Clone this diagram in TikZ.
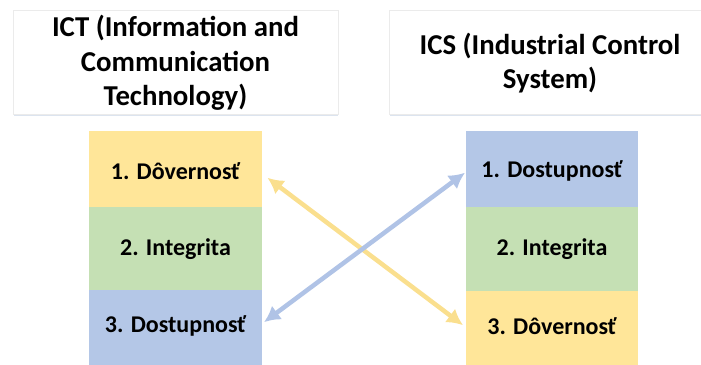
\documentclass[tikz,border=0pt]{standalone}
\usepackage{fontspec}
\setmainfont{Carlito}
\usetikzlibrary{arrows.meta,calc}
\definecolor{cyel}{HTML}{FFE699}
\definecolor{cgrn}{HTML}{C5E0B4}
\definecolor{cblu}{HTML}{B4C7E7}
\definecolor{ayel}{HTML}{FADF8E}
\definecolor{ablu}{HTML}{B0C3E6}
\definecolor{tborder}{HTML}{EBEBEB}
\definecolor{tshadow}{HTML}{DCE4EF}
\begin{document}
\begin{tikzpicture}[x=1pt,y=-1pt,
  titlebox/.style={draw=tborder,line width=0.8pt,fill=white},
  titletext/.style={font=\bfseries\fontsize{28.8}{34.5}\selectfont,align=center,inner sep=0pt},
  cell/.style={minimum width=173pt,inner sep=0pt,anchor=north west},
  celltext/.style={font=\bfseries\fontsize{24}{28}\selectfont},
  arr/.style={line width=4.5pt,{Latex[length=16pt,width=17pt]}-{Latex[length=16pt,width=17pt]}}]
\useasboundingbox (0,0) rectangle (701,364);
% title boxes
\draw[tshadow,line width=1.6pt] (14,115) -- (338,115);
\draw[tshadow,line width=1.6pt] (390,115) -- (712,115);
\node[titlebox,minimum width=325pt,minimum height=104pt,anchor=north west] (tl) at (13,10) {};
\node[titlebox,minimum width=325pt,minimum height=104pt,anchor=north west] (tr) at (389,10) {};
\node[titletext] (tlt) at (175.5,63) {ICT (Information and\\Communication\\Technology)};
\node[titletext] (trt) at (550,63) {ICS (Industrial Control\\System)};
% left column
\node[cell,fill=cyel,minimum height=77pt] (l1) at (89,131) {};
\node[cell,fill=cgrn,minimum height=84pt] (l2) at (89,207) {};
\node[cell,fill=cblu,minimum height=80pt] (l3) at (89,290) {};
\node[celltext] (l1t) at (175.5,171) {1. Dôvernosť};
\node[celltext] (l2t) at (175.5,249) {2. Integrita};
\node[celltext] (l3t) at (175.5,326) {3. Dostupnosť};
% right column
\node[cell,fill=cblu,minimum height=77pt,minimum width=172pt] (r1) at (466,131) {};
\node[cell,fill=cgrn,minimum height=85pt,minimum width=172pt] (r2) at (466,207) {};
\node[cell,fill=cyel,minimum height=80pt,minimum width=172pt] (r3) at (466,291) {};
\node[celltext] (r1t) at (552,171) {1. Dostupnosť};
\node[celltext] (r2t) at (552,249) {2. Integrita};
\node[celltext] (r3t) at (552,326) {3. Dôvernosť};
% arrows
\coordinate (ya) at ($(l1.east)+(5,8)$);
\coordinate (yb) at ($(r3.west)+(-3,-6)$);
\coordinate (ba) at ($(r1.west)+(-1,3)$);
\coordinate (bb) at ($(l3.west)+(175,-8)$);
\draw[arr,draw=ayel,fill=ayel] (ya) -- (yb);
\draw[arr,draw=ablu,fill=ablu] (ba) -- (bb);
\end{tikzpicture}
\end{document}
